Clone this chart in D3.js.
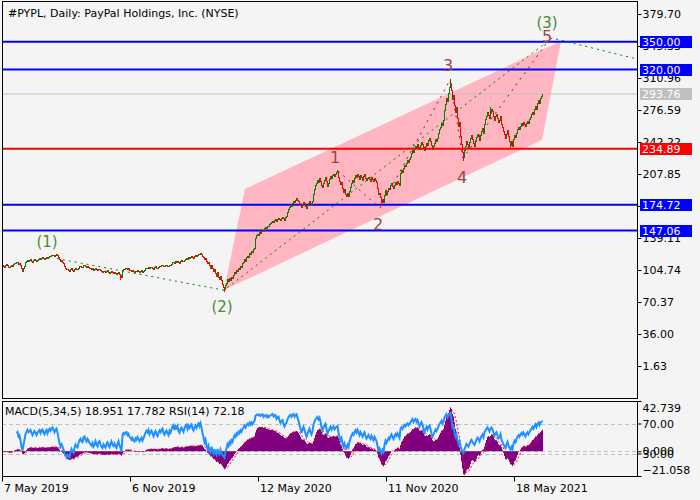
<!DOCTYPE html>
<html>
<head>
<meta charset="utf-8">
<script src="https://cdn.jsdelivr.net/npm/d3@7"></script>
<style>
  body { margin: 0; background: #f4f4f4; }
  svg { display: block; font-family: "DejaVu Sans", sans-serif; font-size: 11px; }
</style>
</head>
<body>
<svg id="chart" width="700" height="500"></svg>
<script>
// daily closes, one per bar (7 May 2019 -> end of June 2021)
const closes = [
  110.5,109.2,108.4,109.8,110.9,109.6,108.1,107.5,108.9,110.2,109.4,
  111.3,112.6,111.8,112.9,113.4,111.7,112.2,
  110.1,106.8,104.2,106.5,109.3,
  112.8,114.5,115.9,114.7,115.3,116.2,114.9,113.8,115.1,116.4,115.7,114.6,116.0,
  116.8,117.5,116.3,117.9,118.4,117.2,116.6,118.1,118.9,117.6,
  119.2,120.1,119.4,120.8,121.3,120.5,119.7,121.0,121.6,120.4,
  118.3,116.1,114.2,115.0,113.6,112.1,
  108.9,107.2,105.4,106.3,104.8,103.9,105.6,106.9,105.2,104.1,106.0,107.4,106.2,105.5,
  107.3,108.6,109.4,108.1,107.7,109.9,110.3,108.8,107.9,109.1,108.4,107.2,106.5,
  105.8,106.7,104.9,105.6,106.9,105.3,104.4,105.9,106.3,104.8,
  103.6,102.9,104.1,103.2,102.4,103.8,104.3,102.7,101.9,103.1,103.9,102.5,101.8,
  102.6,101.4,100.6,101.9,102.8,100.9,99.7,97.2,
  104.8,106.3,105.7,106.9,107.2,105.8,106.4,105.1,104.6,
  103.7,104.5,103.2,102.8,104.1,103.5,104.7,103.9,102.9,103.6,104.3,103.1,104.0,
  105.2,106.4,107.3,106.8,107.9,106.5,107.6,108.2,107.1,106.3,107.8,108.5,107.4,106.9,
  108.3,109.2,108.7,109.8,110.4,109.1,108.6,109.7,110.2,109.5,108.9,110.6,110.1,
  111.4,112.8,113.5,112.2,114.1,113.6,114.8,113.2,112.7,114.4,115.2,114.5,113.9,
  115.8,116.9,117.6,116.4,118.2,117.5,118.9,119.6,118.4,117.8,119.3,120.5,119.8,121.2,122.4,121.6,
  123.5,122.1,
  120.3,118.6,116.2,117.4,114.1,111.8,113.2,109.6,107.4,110.3,106.8,
  103.5,105.9,101.2,98.7,102.4,97.3,94.8,98.1,93.6,90.2,
  86.9,84.5,88.7,91.3,
  95.2,92.8,96.4,94.1,97.6,95.8,
  99.4,102.6,101.3,104.9,103.7,107.2,106.1,109.5,108.3,111.8,
  113.6,116.2,114.9,118.4,120.1,119.2,122.6,121.4,124.8,123.7,126.9,128.3,
  139.5,141.8,143.2,142.6,145.1,144.3,146.9,148.2,146.7,149.5,150.8,149.9,152.4,151.6,153.8,155.2,
  156.4,157.9,156.8,158.6,159.3,157.7,159.8,160.9,159.4,158.2,160.6,161.7,160.1,158.9,161.2,162.4,
  166.5,169.8,172.4,174.1,173.2,176.8,178.5,177.3,179.9,181.6,180.2,178.7,176.9,
  174.8,172.3,175.6,178.2,176.4,173.9,171.8,174.5,177.1,179.3,176.8,175.4,178.6,
  186.2,191.5,195.8,198.4,201.2,199.6,203.4,
  200.8,196.3,193.7,197.9,201.5,204.2,199.8,195.4,198.7,202.6,205.8,203.1,206.4,208.2,205.7,207.9,209.6,
  210.8,
  205.1,200.4,196.7,199.3,192.8,188.5,191.6,186.2,183.9,187.4,184.1,189.7,
  194.3,197.8,201.2,199.6,203.7,206.5,204.1,208.3,205.9,202.7,206.8,204.4,201.9,205.3,207.6,203.8,200.9,
  203.2,205.1,202.4,200.7,204.6,202.1,199.8,203.5,201.3,198.9,
  192.6,186.1,187.9,183.4,178.2,181.5,177.6,184.9,190.2,186.7,
  189.8,193.2,191.4,195.7,198.3,194.9,192.6,196.4,199.1,197.3,200.5,198.2,195.6,
  208.4,211.7,210.2,214.6,217.8,216.3,219.9,222.4,220.8,224.1,226.5,
  230.2,233.8,231.5,235.9,238.4,236.1,239.7,237.2,234.8,238.6,
  242.3,240.1,236.8,233.4,237.9,241.6,239.2,244.8,246.3,243.1,238.5,234.9,237.7,241.4,245.2,243.6,246.9,
  251.4,255.8,258.3,262.7,260.1,265.4,
  276.2,282.9,289.4,286.1,294.7,301.3,305.8,
  298.2,288.6,292.4,281.7,274.3,279.8,268.5,259.1,263.7,248.2,239.6,231.4,
  226.3,
  233.8,238.4,243.7,240.2,236.5,241.8,246.3,249.7,245.1,241.6,238.2,242.9,247.4,251.3,248.6,244.2,249.8,253.6,256.9,252.4,
  261.5,266.8,270.4,274.2,271.6,268.3,273.9,277.5,275.1,270.6,
  266.2,269.8,272.4,267.5,263.8,265.9,270.3,261.7,258.4,
  254.2,250.6,246.8,251.3,255.1,248.7,243.2,239.5,242.8,238.1,245.6,249.9,247.3,252.4,
  255.8,258.6,256.2,259.9,262.4,260.1,263.7,261.5,258.9,262.8,265.3,263.1,266.4,
  268.7,271.9,274.6,272.8,277.3,280.5,278.2,283.6,286.9,284.5,289.8,291.6,293.76
];
// a few long wicks visible in the picture
const wickIdx = [118, 222, 335, 379, 448, 461, 488, 508];
const wickVal = [95.0, 82.0, 212.5, 174.5, 309.5, 222.5, 279.5, 236.0];

const dateTicks = [0, 128, 256, 384, 512];
const dateLabels = ["7 May 2019", "6 Nov 2019", "12 May 2020", "11 Nov 2020", "18 May 2021"];
const priceTicks = [379.70, 345.33, 310.96, 276.59, 242.22, 207.85, 173.48, 139.11, 104.74, 70.37, 36.00, 1.63];

const blueLevels = [350.00, 320.00, 174.72, 147.06];
const redLevels = [234.89];
const lastPrice = 293.76;

// channel corners (bar index, price)
const channelIdx = [222, 243, 559, 540];
const channelPrice = [83.2, 191.7, 350.7, 244.4];
// main wave (1)-(2)-(3) and its continuation
const mainWaveIdx = [55, 222, 550, 640];
const mainWavePrice = [117.0, 83.0, 353.9, 330.0];
// sub waves 1-2-3-4-5
const subWaveIdx = [336, 378, 448, 461, 546];
const subWavePrice = [211.1, 171.3, 308.8, 225.0, 350.7];
const mainLabels = ["(1)", "(2)", "(3)"];
const mainLabelIdx = [45, 220, 545];
const mainLabelPrice = [134.8, 65.0, 370.0];
const subLabels = ["1", "2", "3", "4", "5"];
const subLabelIdx = [333, 376, 446, 460, 545];
const subLabelPrice = [226.1, 153.1, 324.9, 204.6, 355.0];

const macdRange = [-21.058, 42.739];
const rsiLevels = [70, 30];

const svg = d3.select('#chart');
const left = 2, right = 637;
const x = d3.scaleLinear().domain([0, 635]).range([left, right]);
const y = d3.scaleLinear().domain([1.63, 379.70]).range([366, 14]);
const yMacd = d3.scaleLinear().domain(macdRange).range([476, 401]);
const yRsi = d3.scaleLinear().domain([0, 100]).range([476, 401]);

svg.append('rect').attr('width', 700).attr('height', 500).attr('fill', '#f4f4f4');

const defs = svg.append('defs');
defs.append('clipPath').attr('id', 'clipMain')
  .append('rect').attr('x', left).attr('y', 1).attr('width', right - left).attr('height', 397);
defs.append('clipPath').attr('id', 'clipSub')
  .append('rect').attr('x', left).attr('y', 401).attr('width', right - left).attr('height', 75);

const main = svg.append('g').attr('clip-path', 'url(#clipMain)');

// channel
main.append('polygon')
  .attr('points', channelIdx.map((d, k) => x(d) + ',' + y(channelPrice[k])).join(' '))
  .attr('fill', '#ffb6c1');

// price level lines
main.append('line')
  .attr('x1', left).attr('x2', right)
  .attr('y1', y(lastPrice)).attr('y2', y(lastPrice))
  .attr('stroke', '#c0c0c0').attr('stroke-width', 1);
main.selectAll('.lvl-blue').data(blueLevels).join('line')
  .attr('class', 'lvl-blue')
  .attr('x1', left).attr('x2', right)
  .attr('y1', d => y(d)).attr('y2', d => y(d))
  .attr('stroke', '#0000ff').attr('stroke-width', 2);
main.selectAll('.lvl-red').data(redLevels).join('line')
  .attr('class', 'lvl-red')
  .attr('x1', left).attr('x2', right)
  .attr('y1', d => y(d)).attr('y2', d => y(d))
  .attr('stroke', '#ff0000').attr('stroke-width', 2);

// candles
const bars = closes.map((c, i) => {
  const o = i > 0 ? closes[i - 1] : c;
  let hi = Math.max(o, c), lo = Math.min(o, c);
  const w = wickIdx.indexOf(i);
  if (w >= 0) { hi = Math.max(hi, wickVal[w]); lo = Math.min(lo, wickVal[w]); }
  return { i, o, c, hi, lo };
});
main.selectAll('.bar').data(bars).join('rect')
  .attr('class', 'bar')
  .attr('x', d => x(d.i))
  .attr('width', 1)
  .attr('y', d => Math.round(y(d.hi)))
  .attr('height', d => Math.max(1, Math.round(y(d.lo)) - Math.round(y(d.hi)) + 1))
  .attr('fill', d => d.c >= d.o ? '#008000' : '#ff0000');

// wave lines
const waveLine = d3.line().x(d => x(d[0])).y(d => y(d[1]));
main.append('path')
  .attr('d', waveLine(mainWaveIdx.map((d, k) => [d, mainWavePrice[k]])))
  .attr('fill', 'none').attr('stroke', '#008000').attr('stroke-width', 1)
  .attr('stroke-dasharray', '2,4');
main.append('path')
  .attr('d', waveLine(subWaveIdx.map((d, k) => [d, subWavePrice[k]])))
  .attr('fill', 'none').attr('stroke', '#8b1a1a').attr('stroke-width', 1)
  .attr('stroke-dasharray', '2,5');

// wave labels
main.selectAll('.lbl-main').data(mainLabels).join('text')
  .attr('class', 'lbl-main')
  .attr('x', (d, k) => x(mainLabelIdx[k]))
  .attr('y', (d, k) => y(mainLabelPrice[k]))
  .attr('text-anchor', 'middle').attr('dominant-baseline', 'central')
  .attr('font-size', 15).attr('fill', '#4a8a30')
  .text(d => d);
main.selectAll('.lbl-sub').data(subLabels).join('text')
  .attr('class', 'lbl-sub')
  .attr('x', (d, k) => x(subLabelIdx[k]))
  .attr('y', (d, k) => y(subLabelPrice[k]))
  .attr('text-anchor', 'middle').attr('dominant-baseline', 'central')
  .attr('font-size', 16).attr('fill', '#9a4444')
  .text(d => d);

// title
svg.append('text').attr('x', 8).attr('y', 13).attr('dominant-baseline', 'central')
  .attr('fill', '#000').text('#PYPL, Daily:  PayPal Holdings, Inc. (NYSE)');

// ---- MACD(5,34,5) + RSI(14) ----
function ema(vals, n) {
  const a = 2 / (n + 1);
  const out = [];
  vals.forEach((v, i) => out.push(i === 0 ? v : a * v + (1 - a) * out[i - 1]));
  return out;
}
const e5 = ema(closes, 5), e34 = ema(closes, 34);
const macd = closes.map((c, i) => e5[i] - e34[i]);
const signal = macd.map((m, i) => {
  const s = macd.slice(Math.max(0, i - 4), i + 1);
  return d3.mean(s);
});
// RSI(14): first value after 14 changes, Wilder smoothing after that
const rsi = [];
let sumUp = 0, sumDn = 0, avgUp = 0, avgDn = 0;
closes.forEach((c, i) => {
  if (i === 0) { rsi.push(null); return; }
  const ch = c - closes[i - 1];
  const up = Math.max(ch, 0), dn = Math.max(-ch, 0);
  if (i < 14) { sumUp += up; sumDn += dn; rsi.push(null); return; }
  if (i === 14) {
    avgUp = (sumUp + up) / 14; avgDn = (sumDn + dn) / 14;
  } else {
    avgUp = (avgUp * 13 + up) / 14; avgDn = (avgDn * 13 + dn) / 14;
  }
  rsi.push(avgDn === 0 ? 100 : 100 - 100 / (1 + avgUp / avgDn));
});

const sub = svg.append('g').attr('clip-path', 'url(#clipSub)');
sub.selectAll('.lvl-rsi').data(rsiLevels).join('line')
  .attr('class', 'lvl-rsi')
  .attr('x1', left).attr('x2', right)
  .attr('y1', d => Math.round(yRsi(d)) + 0.5).attr('y2', d => Math.round(yRsi(d)) + 0.5)
  .attr('stroke', '#c0c0c0').attr('stroke-dasharray', '4,3');
sub.append('line')
  .attr('x1', left).attr('x2', right)
  .attr('y1', Math.round(yMacd(0)) + 0.5).attr('y2', Math.round(yMacd(0)) + 0.5)
  .attr('stroke', '#c0c0c0').attr('stroke-dasharray', '4,3');

sub.selectAll('.hist').data(macd).join('line')
  .attr('class', 'hist')
  .attr('x1', (d, i) => x(i) + 0.5).attr('x2', (d, i) => x(i) + 0.5)
  .attr('y1', yMacd(0)).attr('y2', d => yMacd(d))
  .attr('stroke', '#800080').attr('stroke-width', 1);
sub.append('path')
  .attr('d', d3.line().x((d, i) => x(i) + 0.5).y(d => yMacd(d))(signal))
  .attr('fill', 'none').attr('stroke', '#ff0000').attr('stroke-width', 1)
  .attr('stroke-dasharray', '2,2');
sub.append('path')
  .attr('d', d3.line().defined(d => d !== null).x((d, i) => x(i) + 0.5).y(d => yRsi(d))(rsi))
  .attr('fill', 'none').attr('stroke', '#1e90ff').attr('stroke-width', 2);

svg.append('text').attr('x', 5).attr('y', 411).attr('dominant-baseline', 'central')
  .text('MACD(5,34,5) 18.951 17.782 RSI(14) 72.18');

// frames
svg.append('rect').attr('x', left + 0.5).attr('y', 1.5).attr('width', right - left).attr('height', 397)
  .attr('fill', 'none').attr('stroke', '#000');
svg.append('rect').attr('x', left + 0.5).attr('y', 401.5).attr('width', right - left).attr('height', 75)
  .attr('fill', 'none').attr('stroke', '#000');

// price axis
const yAxis = svg.append('g').attr('transform', `translate(${right + 0.5},0)`)
  .call(d3.axisRight(y).tickValues(priceTicks).tickFormat(d3.format('.2f')).tickSize(4).tickPadding(1));
yAxis.select('.domain').remove();
yAxis.selectAll('text').attr('font-family', '"DejaVu Sans", sans-serif').attr('font-size', 11).attr('fill', '#000');

// level tags on the price axis
const tags = [
  ...blueLevels.map(v => ({ v, bg: '#0000ff' })),
  ...redLevels.map(v => ({ v, bg: '#ff0000' })),
  { v: lastPrice, bg: '#c0c0c0' }
];
const tagG = svg.selectAll('.tag').data(tags).join('g')
  .attr('class', 'tag')
  .attr('transform', d => `translate(640,${Math.round(y(d.v))})`);
tagG.append('rect').attr('x', 0).attr('y', -6).attr('width', 52).attr('height', 12).attr('fill', d => d.bg);
tagG.append('text').attr('x', 2).attr('y', 0).attr('dominant-baseline', 'central')
  .attr('fill', '#fff').text(d => d3.format('.2f')(d.v));

// indicator axis
const mAxis = svg.append('g').attr('transform', `translate(${right + 0.5},0)`)
  .call(d3.axisRight(yMacd).tickValues([macdRange[1], 0, macdRange[0]]).tickFormat(d3.format('.3f')).tickSize(4).tickPadding(1));
mAxis.select('.domain').remove();
mAxis.selectAll('text').attr('font-family', '"DejaVu Sans", sans-serif').attr('font-size', 11).attr('fill', '#000')
  .attr('dy', (d, k) => k === 0 ? '0.95em' : (k === 2 ? '-0.25em' : '0.32em'));
const rAxis = svg.append('g').attr('transform', `translate(${right + 0.5},0)`)
  .call(d3.axisRight(yRsi).tickValues(rsiLevels).tickFormat(d3.format('.2f')).tickSize(4).tickPadding(1));
rAxis.select('.domain').remove();
rAxis.selectAll('text').attr('font-family', '"DejaVu Sans", sans-serif').attr('font-size', 11).attr('fill', '#000');

// date axis
const xAxis = svg.append('g').attr('transform', 'translate(0,476.5)')
  .call(d3.axisBottom(x).tickValues(dateTicks).tickFormat((d, k) => dateLabels[k]).tickSize(5).tickPadding(3));
xAxis.select('.domain').remove();
xAxis.selectAll('text').attr('font-family', '"DejaVu Sans", sans-serif').attr('font-size', 11).attr('fill', '#000')
  .attr('text-anchor', 'start').attr('x', 1.5);
</script>
</body>
</html>
